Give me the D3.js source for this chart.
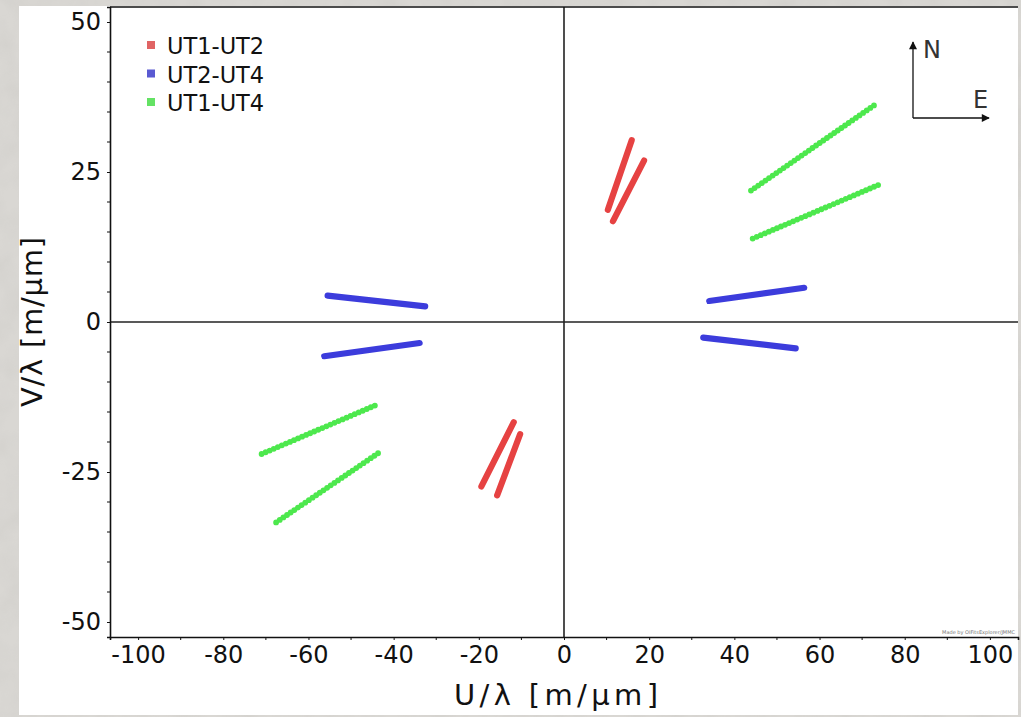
<!DOCTYPE html>
<html>
<head>
<meta charset="utf-8">
<script src="https://cdn.jsdelivr.net/npm/d3@7"></script>
<style>
  html, body { margin: 0; padding: 0; background: #d8d6d2; }
  svg { display: block; }
  text { font-family: "DejaVu Sans", sans-serif; }
</style>
</head>
<body>
<svg id="chart" width="1021" height="717"></svg>
<script>
// Baselines shown in the legend, with their colours
const baselines = ["UT1-UT2", "UT2-UT4", "UT1-UT4"];
const trackColors = ["#e64242", "#3c3cdc", "#4de84d"];
const legendColors = ["#e06464", "#5a5ad2", "#64e264"];

// uv tracks: start and end of each track, [u, v] in m/µm
const ut1ut2Tracks = [
  [[15.9, 30.3], [10.3, 18.7]],
  [[18.8, 26.9], [11.5, 16.8]],
  [[-11.8, -16.7], [-19.4, -27.4]],
  [[-10.3, -18.7], [-15.7, -28.9]]
];
const ut2ut4Tracks = [
  [[34.1, 3.5], [56.4, 5.7]],
  [[32.7, -2.6], [54.4, -4.4]],
  [[-55.5, 4.4], [-32.6, 2.6]],
  [[-56.3, -5.7], [-33.9, -3.5]]
];
const ut1ut4Tracks = [
  [[43.9, 21.9], [73.0, 36.2]],
  [[44.3, 13.9], [74.0, 22.9]],
  [[-71.0, -22.0], [-44.0, -13.8]],
  [[-67.6, -33.4], [-43.5, -21.8]]
];

// Axis ticks
const xMajorTicks = [-100, -80, -60, -40, -20, 0, 20, 40, 60, 80, 100];
const xMinorTicks = [-90, -70, -50, -30, -10, 10, 30, 50, 70, 90];
const yMajorTicks = [-50, -25, 0, 25, 50];
const yMinorTicks = [-45, -40, -35, -30, -20, -15, -10, -5, 5, 10, 15, 20, 30, 35, 40, 45];

const svg = d3.select("#chart");

// Textured grey surround
const defs = svg.append("defs");
const tex = defs.append("filter").attr("id", "paper")
  .attr("x", 0).attr("y", 0).attr("width", "100%").attr("height", "100%");
tex.append("feTurbulence").attr("type", "fractalNoise")
  .attr("baseFrequency", 0.035).attr("numOctaves", 3).attr("seed", 7).attr("result", "noise");
tex.append("feColorMatrix").attr("in", "noise").attr("type", "matrix")
  .attr("values", "0 0 0 0 0.5  0 0 0 0 0.49  0 0 0 0 0.47  0 0 0 0.9 -0.3");
svg.append("rect").attr("width", 1021).attr("height", 717).attr("fill", "#d9d7d3");
svg.append("rect").attr("width", 1021).attr("height", 717).attr("filter", "url(#paper)").attr("opacity", 0.35);

// White page
svg.append("rect").attr("x", 19).attr("y", 6).attr("width", 999).attr("height", 709).attr("fill", "#ffffff");

const x = d3.scaleLinear().domain([-106.6, 106.6]).range([110, 1018]);
const y = d3.scaleLinear().domain([-52.5, 52.5]).range([637, 7]);

const g = svg.append("g");

// Zero lines
g.append("line").attr("x1", x.range()[0]).attr("x2", x.range()[1])
  .attr("y1", y(0)).attr("y2", y(0)).attr("stroke", "#222").attr("stroke-width", 1.6);
g.append("line").attr("x1", x(0)).attr("x2", x(0))
  .attr("y1", y.range()[0]).attr("y2", y.range()[1]).attr("stroke", "#222").attr("stroke-width", 1.6);

// Tracks
const line = d3.line().x(d => x(d[0])).y(d => y(d[1]));
const groups = [ut1ut2Tracks, ut2ut4Tracks, ut1ut4Tracks];
groups.forEach((tracks, i) => {
  g.append("g").selectAll("path").data(tracks).join("path")
    .attr("d", line)
    .attr("fill", "none")
    .attr("stroke", trackColors[i])
    .attr("stroke-width", i === 2 ? 5.8 : 6.2)
    .attr("stroke-linecap", "round")
    .attr("stroke-dasharray", i === 2 ? "0 4.4" : null);
});

// Axes (plain hyphen-minus in labels)
const plain = d => String(d);
const xAxis = d3.axisBottom(x).tickValues(xMajorTicks).tickSize(3).tickPadding(6).tickFormat(plain);
const xAxisG = svg.append("g").attr("transform", `translate(0,${y.range()[0]})`).call(xAxis);
xAxisG.append("g").selectAll("line").data(xMinorTicks).join("line")
  .attr("x1", d => x(d)).attr("x2", d => x(d)).attr("y1", 0).attr("y2", 3).attr("stroke", "#111");

const yAxis = d3.axisLeft(y).tickValues(yMajorTicks).tickSize(3).tickPadding(6).tickFormat(plain);
const yAxisG = svg.append("g").attr("transform", `translate(${x.range()[0]},0)`).call(yAxis);
yAxisG.append("g").selectAll("line").data(yMinorTicks).join("line")
  .attr("x1", 0).attr("x2", -3).attr("y1", d => y(d)).attr("y2", d => y(d)).attr("stroke", "#111");

[xAxisG, yAxisG].forEach(a => {
  a.select(".domain").attr("stroke", "#111").attr("stroke-width", 1.6);
  a.selectAll(".tick line").attr("stroke", "#111");
  a.selectAll(".tick text").attr("font-size", 24).attr("fill", "#111")
    .attr("font-family", "DejaVu Sans, sans-serif");
});

// Top frame line
svg.append("line").attr("x1", x.range()[0]).attr("x2", x.range()[1])
  .attr("y1", y.range()[1]).attr("y2", y.range()[1]).attr("stroke", "#111").attr("stroke-width", 1.6);

// Axis titles
svg.append("text").attr("x", 556).attr("y", 705).attr("text-anchor", "middle")
  .attr("font-size", 29).attr("fill", "#111")
  .attr("textLength", 204).attr("lengthAdjust", "spacing").text("U/λ [m/μm]");
svg.append("text").attr("transform", `translate(42,${y(0)}) rotate(-90)`)
  .attr("text-anchor", "middle").attr("font-size", 29).attr("fill", "#111")
  .attr("textLength", 170).attr("lengthAdjust", "spacing").text("V/λ [m/μm]");

// Legend
const legend = svg.append("g").attr("transform", "translate(147,46)");
const rows = legend.selectAll("g").data(baselines).join("g")
  .attr("transform", (d, i) => `translate(0,${i * 28.5})`);
rows.append("rect").attr("x", 0).attr("y", -5).attr("width", 8).attr("height", 8)
  .attr("fill", (d, i) => legendColors[i]);
rows.append("text").attr("x", 20).attr("y", 8).attr("font-size", 22.5).attr("fill", "#111").text(d => d);

// Orientation marker
defs.append("marker").attr("id", "arrow").attr("viewBox", "0 0 10 10")
  .attr("refX", 9).attr("refY", 5).attr("markerWidth", 10).attr("markerHeight", 8)
  .attr("markerUnits", "userSpaceOnUse").attr("orient", "auto")
  .append("path").attr("d", "M0,0 L10,5 L0,10 z").attr("fill", "#111");
const compass = svg.append("g").attr("stroke", "#111").attr("stroke-width", 1.3);
compass.append("line").attr("x1", 913).attr("y1", 118).attr("x2", 913).attr("y2", 42).attr("marker-end", "url(#arrow)");
compass.append("line").attr("x1", 913).attr("y1", 118).attr("x2", 989).attr("y2", 118).attr("marker-end", "url(#arrow)");
svg.append("text").attr("x", 923).attr("y", 58).attr("font-size", 24).attr("fill", "#333")
  .attr("font-family", "Liberation Sans, Arial, sans-serif").text("N");
svg.append("text").attr("x", 973).attr("y", 108).attr("font-size", 24).attr("fill", "#333")
  .attr("font-family", "Liberation Sans, Arial, sans-serif").text("E");

// Credit
svg.append("text").attr("x", 1015).attr("y", 634).attr("text-anchor", "end")
  .attr("font-size", 5).attr("fill", "#777").text("Made by OIFitsExplorer/JMMC");
</script>
</body>
</html>
